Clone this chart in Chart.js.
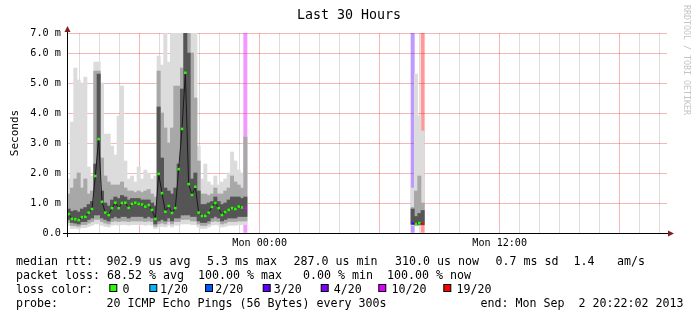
<!DOCTYPE html>
<html>
<head>
<meta charset="utf-8">
<title>Last 30 Hours</title>
<script src="https://cdn.jsdelivr.net/npm/chart.js@4.4.1/dist/chart.umd.min.js"></script>
<style>
  html, body { margin: 0; padding: 0; background: #fff; }
  canvas { display: block; }
</style>
</head>
<body>
<canvas id="smokeChart" width="697" height="321"></canvas>
<script>
// minutes after window start (Sun 14:22), one sample per 10 minutes
const stepTimes = [
    5, 15, 25, 35, 45, 55, 65, 75, 85, 95,
    105, 115, 125, 135, 145, 155, 165, 175, 185, 195,
    205, 215, 225, 235, 245, 255, 265, 275, 285, 295,
    305, 315, 325, 335, 345, 355, 365, 375, 385, 395,
    405, 415, 425, 435, 445, 455, 465, 475, 485, 495,
    505, 515, 525, 535,
    1037, 1047, 1057, 1067
];

// median rtt in ms
const median = [
    0.63, 0.47, 0.46, 0.43, 0.53, 0.54, 0.68, 0.80, 1.90, 3.13,
    1.04, 0.68, 0.60, 0.83, 1.01, 0.83, 1.00, 1.01, 0.84, 0.97,
    1.01, 0.97, 0.95, 0.88, 0.93, 0.77, 0.47, 1.97, 1.33, 0.71,
    0.90, 0.67, 0.83, 2.13, 3.47, 5.34, 1.63, 1.27, 1.54, 0.68,
    0.57, 0.57, 0.68, 0.87, 1.00, 0.83, 0.60, 0.70, 0.77, 0.83,
    0.80, 0.88, 0.85, 0.83,
    0.32, 0.30, 0.33, 0.30
];

// smoke: dark core, middle band and light outliers (low / high, ms)
const darkLo = [
    0.45, 0.35, 0.33, 0.30, 0.38, 0.38, 0.45, 0.50, 0.60, 0.60,
    0.50, 0.45, 0.40, 0.50, 0.55, 0.50, 0.55, 0.55, 0.50, 0.55,
    0.55, 0.55, 0.55, 0.50, 0.55, 0.50, 0.30, 0.40, 0.45, 0.40,
    0.50, 0.40, 0.50, 0.50, 0.60, 0.60, 0.60, 0.55, 0.55, 0.40,
    0.35, 0.35, 0.40, 0.50, 0.55, 0.50, 0.40, 0.45, 0.50, 0.50,
    0.50, 0.55, 0.55, 0.55,
    0.30, 0.28, 0.28, 0.28
];
const darkHi = [
    0.80, 0.72, 0.75, 0.70, 0.80, 0.85, 0.95, 1.05, 2.30, 5.30,
    1.40, 1.00, 0.90, 1.10, 1.20, 1.15, 1.25, 1.20, 1.10, 1.15,
    1.15, 1.15, 1.10, 1.10, 1.10, 1.00, 0.90, 4.20, 2.50, 1.50,
    1.40, 1.30, 1.50, 2.30, 4.80, 6.67, 6.00, 1.80, 2.00, 1.40,
    0.95, 0.95, 1.00, 1.05, 1.20, 1.05, 0.95, 1.00, 1.10, 1.20,
    1.20, 1.20, 1.15, 1.20,
    0.80, 0.55, 0.65, 0.75
];
const midLo = [
    0.35, 0.25, 0.24, 0.22, 0.28, 0.28, 0.33, 0.38, 0.45, 0.45,
    0.38, 0.33, 0.30, 0.38, 0.40, 0.38, 0.40, 0.40, 0.38, 0.40,
    0.40, 0.40, 0.40, 0.38, 0.40, 0.38, 0.22, 0.30, 0.33, 0.30,
    0.38, 0.30, 0.38, 0.38, 0.45, 0.45, 0.45, 0.40, 0.40, 0.30,
    0.25, 0.25, 0.30, 0.38, 0.40, 0.38, 0.30, 0.33, 0.38, 0.38,
    0.38, 0.40, 0.40, 0.40,
    0.27, 0.26, 0.26, 0.26
];
const midHi = [
    1.30, 1.50, 1.80, 2.00, 1.50, 1.80, 1.30, 1.40, 5.40, 5.40,
    2.50, 1.90, 1.70, 1.60, 1.60, 1.60, 1.70, 1.50, 1.40, 1.40,
    1.35, 1.40, 1.35, 1.40, 1.45, 1.30, 1.20, 5.40, 4.00, 3.50,
    3.00, 3.50, 4.90, 4.90, 5.50, 6.67, 6.67, 6.00, 4.50, 2.40,
    1.30, 1.30, 1.25, 1.30, 1.50, 1.30, 1.30, 1.40, 1.50, 1.90,
    1.70, 1.60, 1.50, 3.20,
    0.85, 1.40, 1.90, 1.00
];
const lightLo = [
    0.25, 0.15, 0.15, 0.14, 0.18, 0.18, 0.22, 0.26, 0.30, 0.30,
    0.26, 0.22, 0.20, 0.26, 0.28, 0.26, 0.28, 0.28, 0.26, 0.28,
    0.28, 0.28, 0.28, 0.26, 0.28, 0.26, 0.15, 0.20, 0.22, 0.20,
    0.26, 0.20, 0.26, 0.26, 0.30, 0.30, 0.30, 0.28, 0.28, 0.20,
    0.15, 0.15, 0.20, 0.26, 0.28, 0.26, 0.20, 0.22, 0.26, 0.26,
    0.26, 0.28, 0.28, 0.28,
    0.25, 0.24, 0.24, 0.24
];
const lightHi = [
    1.80, 3.70, 5.50, 5.10, 5.00, 5.20, 2.20, 1.90, 5.70, 5.70,
    5.00, 3.30, 3.30, 2.90, 2.60, 3.90, 4.90, 2.40, 1.80, 1.90,
    1.70, 2.20, 1.80, 2.10, 2.00, 1.80, 1.90, 5.90, 5.60, 6.67,
    5.70, 6.67, 6.67, 6.67, 6.67, 6.67, 6.67, 6.67, 6.67, 2.90,
    1.80, 2.30, 1.70, 1.60, 1.90, 1.60, 1.70, 1.80, 2.00, 2.70,
    2.40, 2.10, 2.00, 3.20,
    1.50, 5.30, 3.90, 3.40
];

// lost pings out of 20 per sample
const lossCount = [
    0, 0, 0, 0, 0, 0, 0, 0, 0, 0,
    0, 0, 0, 0, 0, 0, 0, 0, 0, 0,
    0, 0, 0, 0, 0, 0, 0, 0, 0, 0,
    0, 0, 0, 0, 0, 0, 0, 0, 0, 0,
    0, 0, 0, 0, 0, 0, 0, 0, 0, 0,
    0, 0, 0, 10,
    3, 0, 0, 19
];

const lossLevels = [0, 1, 2, 3, 4, 10, 19];
const lossColors = ['#26ff00', '#00b8ff', '#0059ff', '#5e00ff', '#7e00ff', '#dd00ff', '#ff0000'];
const lossLabels = ['0', '1/20', '2/20', '3/20', '4/20', '10/20', '19/20'];

// axis setup
const windowMinutes = 1800;     // 30 hours
const startClock = 14 * 60 + 22; // Sun 14:22
const yTop = 20 / 3;            // top of the graph, labelled 7.0 m
const yTicks = [0, 0.5, 1, 1.5, 2, 2.5, 3, 3.5, 4, 4.5, 5, 5.5, 6, 6.5, yTop];
const hourTicks = [];
for (let m = 38; m < windowMinutes; m += 60) hourTicks.push(m);
const xLabels = { 578: 'Mon 00:00', 1298: 'Mon 12:00' };

const medianStats = ['902.9 us avg', '5.3 ms max', '287.0 us min', '310.0 us now', '0.7 ms sd', '1.4', 'am/s'];
const lossStats = 'packet loss: 68.52 % avg  100.00 % max   0.00 % min  100.00 % now';
const probeText = '20 ICMP Echo Pings (56 Bytes) every 300s';
const endText = 'end: Mon Sep  2 20:22:02 2013';

const MONO = '"DejaVu Sans Mono", monospace';
const MAJOR_GRID = 'rgba(220, 0, 0, 0.28)';
const MINOR_GRID = 'rgba(120, 120, 120, 0.25)';

function lossColor(n) {
    let c = lossColors[0];
    lossLevels.forEach((lv, i) => { if (n >= lv) c = lossColors[i]; });
    return c;
}

function fade(hex, a) {
    const r = parseInt(hex.slice(1, 3), 16);
    const g = parseInt(hex.slice(3, 5), 16);
    const b = parseInt(hex.slice(5, 7), 16);
    return `rgba(${r}, ${g}, ${b}, ${a})`;
}

function band(lo, hi) {
    return stepTimes.map((t, i) => ({ x: t, y: [lo[i], hi[i]] }));
}

// median line, broken where samples are missing
const medianPoints = [];
stepTimes.forEach((t, i) => {
    if (i > 0 && t - stepTimes[i - 1] > 10) {
        medianPoints.push({ x: (t + stepTimes[i - 1]) / 2, y: null, loss: 0 });
    }
    medianPoints.push({ x: t, y: median[i], loss: lossCount[i] });
});

// full height marker where pings were lost
const lossMarks = [];
stepTimes.forEach((t, i) => {
    if (lossCount[i] > 0) lossMarks.push({ x: t, y: [0, yTop], loss: lossCount[i] });
});

// extra drawing rrdtool does around the graph
const rrdDecor = {
    id: 'rrdDecor',
    afterDraw(chart) {
        const ctx = chart.ctx;
        const { left, right, top, bottom } = chart.chartArea;
        ctx.save();

        // axis lines with arrow heads
        ctx.strokeStyle = '#000';
        ctx.lineWidth = 1;
        ctx.beginPath();
        ctx.moveTo(left + 0.5, bottom + 4);
        ctx.lineTo(left + 0.5, top - 3);
        ctx.moveTo(left - 4, bottom + 0.5);
        ctx.lineTo(right + 3, bottom + 0.5);
        ctx.stroke();
        ctx.fillStyle = '#7f1f1f';
        ctx.beginPath();
        ctx.moveTo(left + 0.5, top - 7);
        ctx.lineTo(left - 2.5, top - 1);
        ctx.lineTo(left + 3.5, top - 1);
        ctx.closePath();
        ctx.fill();
        ctx.beginPath();
        ctx.moveTo(right + 7, bottom + 0.5);
        ctx.lineTo(right + 1, bottom - 2.5);
        ctx.lineTo(right + 1, bottom + 3.5);
        ctx.closePath();
        ctx.fill();

        // title
        ctx.fillStyle = '#000';
        ctx.font = '13.3px ' + MONO;
        ctx.textAlign = 'center';
        ctx.textBaseline = 'middle';
        ctx.fillText('Last 30 Hours', 349, 16);

        // watermark
        ctx.save();
        ctx.translate(686.5, 5);
        ctx.rotate(Math.PI / 2);
        ctx.fillStyle = '#c4c4c4';
        ctx.font = '8.3px ' + MONO;
        ctx.textAlign = 'left';
        ctx.fillText('RRDTOOL / TOBI OETIKER', 0, 0);
        ctx.restore();

        // legend block
        ctx.font = '11.63px ' + MONO;
        ctx.textAlign = 'left';
        ctx.textBaseline = 'alphabetic';
        ctx.fillStyle = '#000';
        const row1 = 264.5, row2 = 278.6, row3 = 292.7, row4 = 306.9;
        ctx.fillText('median rtt:', 16, row1);
        const statX = [106.5, 207, 293.5, 395, 495.5, 573.5, 617];
        medianStats.forEach((s, i) => ctx.fillText(s, statX[i], row1));
        ctx.fillText(lossStats, 16, row2);
        ctx.fillText('loss color:', 16, row3);
        const boxX = [109.3, 149.3, 205, 262.7, 320.7, 378.3, 443.3];
        const labelX = [122.5, 160, 215.3, 273.8, 333.8, 391.6, 456.6];
        lossColors.forEach((c, i) => {
            ctx.fillStyle = c;
            ctx.fillRect(boxX[i] + 0.5, 284.5, 7, 7);
            ctx.strokeStyle = '#000';
            ctx.strokeRect(boxX[i] + 0.5, 284.5, 7, 7);
            ctx.fillStyle = '#000';
            ctx.fillText(lossLabels[i], labelX[i], row3);
        });
        ctx.fillText('probe:', 16, row4);
        ctx.fillText(probeText, 106.5, row4);
        ctx.fillText(endText, 480.5, row4);

        ctx.restore();
    }
};

const barCommon = {
    type: 'bar',
    grouped: false,
    barPercentage: 1,
    categoryPercentage: 1,
    borderWidth: 0
};

const ctx = document.getElementById('smokeChart').getContext('2d');
window.smokeChart = new Chart(ctx, {
    type: 'bar',
    data: {
        datasets: [
            {
                type: 'line',
                label: 'median rtt',
                data: medianPoints,
                borderColor: '#1a1a1a',
                borderWidth: 1,
                tension: 0,
                spanGaps: false,
                pointStyle: 'rect',
                pointRadius: 1.8,
                pointBorderWidth: 0,
                pointBackgroundColor: c => lossColor(c.raw ? c.raw.loss : 0),
                order: 0
            },
            Object.assign({ label: 'dark smoke', data: band(darkLo, darkHi), backgroundColor: '#555555', order: 1 }, barCommon),
            Object.assign({ label: 'mid smoke', data: band(midLo, midHi), backgroundColor: '#a8a8a8', order: 2 }, barCommon),
            Object.assign({ label: 'light smoke', data: band(lightLo, lightHi), backgroundColor: '#dcdcdc', order: 3 }, barCommon),
            Object.assign({
                label: 'loss',
                data: lossMarks,
                backgroundColor: c => fade(lossColor(c.raw ? c.raw.loss : 0), 0.4),
                order: 4
            }, barCommon)
        ]
    },
    options: {
        responsive: false,
        animation: false,
        layout: { padding: { top: 33, right: 30, bottom: 0, left: 0 } },
        plugins: {
            legend: { display: false },
            tooltip: { enabled: false },
            title: { display: false }
        },
        scales: {
            x: {
                type: 'linear',
                min: 0,
                max: windowMinutes,
                offset: false,
                z: 1,
                afterFit: s => { s.height = 88; },
                afterBuildTicks: s => { s.ticks = hourTicks.map(v => ({ value: v })); },
                grid: {
                    offset: false,
                    drawTicks: false,
                    color: c => {
                        if (!c.tick) return MINOR_GRID;
                        const clock = ((startClock + c.tick.value) / 60) % 24;
                        return clock % 6 === 0 ? MAJOR_GRID : MINOR_GRID;
                    }
                },
                border: { color: '#000', width: 1 },
                ticks: {
                    autoSkip: false,
                    maxRotation: 0,
                    padding: 4,
                    color: '#000',
                    font: { family: MONO, size: 10.1 },
                    callback: v => xLabels[v] || ''
                }
            },
            y: {
                min: 0,
                max: yTop,
                z: 1,
                afterFit: s => { s.width = 67; },
                afterBuildTicks: s => { s.ticks = yTicks.map(v => ({ value: v })); },
                grid: {
                    drawTicks: false,
                    color: c => {
                        if (!c.tick) return MINOR_GRID;
                        const v = c.tick.value;
                        return (Number.isInteger(v) || v === yTop) ? MAJOR_GRID : MINOR_GRID;
                    }
                },
                border: { color: '#000', width: 1 },
                ticks: {
                    padding: 6,
                    color: '#000',
                    font: { family: MONO, size: 10.2 },
                    callback: v => {
                        if (v === 0) return '0.0';
                        if (v === yTop) return '7.0 m';
                        return Number.isInteger(v) ? v.toFixed(1) + ' m' : '';
                    }
                },
                title: {
                    display: true,
                    text: 'Seconds',
                    color: '#000',
                    font: { family: MONO, size: 11 },
                    padding: { top: 9, bottom: 0 }
                }
            }
        }
    },
    plugins: [rrdDecor]
});
</script>
</body>
</html>
